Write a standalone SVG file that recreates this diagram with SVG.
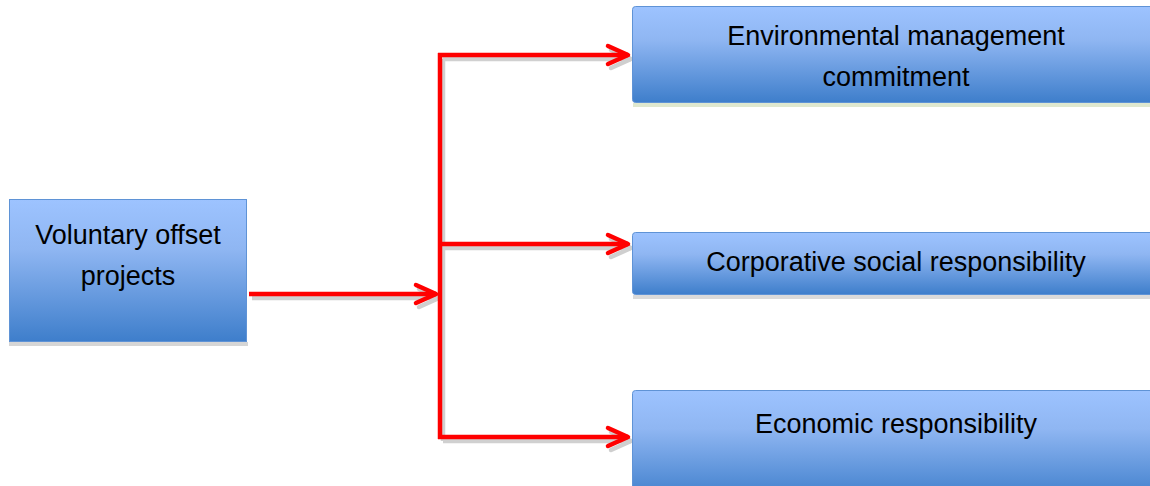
<svg xmlns="http://www.w3.org/2000/svg" width="1150" height="486" viewBox="0 0 1150 486">
  <defs>
    <linearGradient id="boxFill" x1="0" y1="0" x2="0" y2="1">
      <stop offset="0" stop-color="#9dc3ff"/>
      <stop offset="0.35" stop-color="#8fb6f2"/>
      <stop offset="1" stop-color="#3e7ecb"/>
    </linearGradient>
    <marker id="arrow" viewBox="0 0 12 12" refX="11" refY="6" markerWidth="12" markerHeight="12" markerUnits="userSpaceOnUse" orient="auto" overflow="visible">
      <path d="M -9 -3 L 11 6 L -9 15" fill="none" stroke="#ff0000" stroke-width="4.5" stroke-linecap="round" stroke-linejoin="round"/>
    </marker>
    <marker id="arrowShadow" viewBox="0 0 12 12" refX="11" refY="6" markerWidth="12" markerHeight="12" markerUnits="userSpaceOnUse" orient="auto" overflow="visible">
      <path d="M -9 -3 L 11 6 L -9 15" fill="none" stroke="#cfcfcf" stroke-width="4.5" stroke-linecap="round" stroke-linejoin="round"/>
    </marker>
  </defs>
  <style>
    .box { fill: url(#boxFill); stroke: #5f93d6; stroke-width: 1; }
    .shadow { fill: #d6d6d6; }
    .label { font-family: "Liberation Sans", Arial, sans-serif; font-size: 27px; fill: #000; text-anchor: middle; }
    .wire { fill: none; stroke: #ff0000; stroke-width: 4.5; }
    .wireShadow { fill: none; stroke: #d0d0d0; stroke-width: 4.5; }
  </style>

  <rect width="1150" height="486" fill="#ffffff"/>

  <!-- connectors -->
  <g id="connectors">
    <g transform="translate(3,4)">
      <path class="wireShadow" d="M 249 294 L 436 294" marker-end="url(#arrowShadow)"/>
      <path class="wireShadow" d="M 440 437 L 440 55"/>
      <path class="wireShadow" d="M 440 55 L 628 55" marker-end="url(#arrowShadow)"/>
      <path class="wireShadow" d="M 440 244 L 628 244" marker-end="url(#arrowShadow)"/>
      <path class="wireShadow" d="M 440 437 L 628 437" marker-end="url(#arrowShadow)"/>
    </g>
    <path class="wire" d="M 249 294 L 436 294" marker-end="url(#arrow)"/>
    <path class="wire" d="M 440 439 L 440 53"/>
    <path class="wire" d="M 438 55 L 628 55" marker-end="url(#arrow)"/>
    <path class="wire" d="M 440 244 L 628 244" marker-end="url(#arrow)"/>
    <path class="wire" d="M 438 437 L 628 437" marker-end="url(#arrow)"/>
  </g>

  <!-- source node -->
  <g id="node-voluntary">
    <rect class="shadow" x="9" y="342" width="239" height="4"/>
    <rect class="box" x="9.5" y="199.5" width="237" height="142"/>
    <text class="label" x="128" y="244">Voluntary offset</text>
    <text class="label" x="128" y="285">projects</text>
  </g>

  <!-- target nodes -->
  <g id="node-environmental">
    <rect x="633" y="103" width="520" height="4" fill="#dfe8cf"/>
    <rect class="box" x="632.5" y="6.5" width="530" height="96" rx="3"/>
    <text class="label" x="896" y="45">Environmental management</text>
    <text class="label" x="896" y="86">commitment</text>
  </g>

  <g id="node-csr">
    <rect x="633" y="295" width="520" height="4" fill="#dadada"/>
    <rect class="box" x="632.5" y="232.5" width="530" height="62" rx="3"/>
    <text class="label" x="896" y="271">Corporative social responsibility</text>
  </g>

  <g id="node-economic">
    <rect class="box" x="632.5" y="390.5" width="530" height="110" rx="3"/>
    <text class="label" x="896" y="433">Economic responsibility</text>
  </g>
</svg>
